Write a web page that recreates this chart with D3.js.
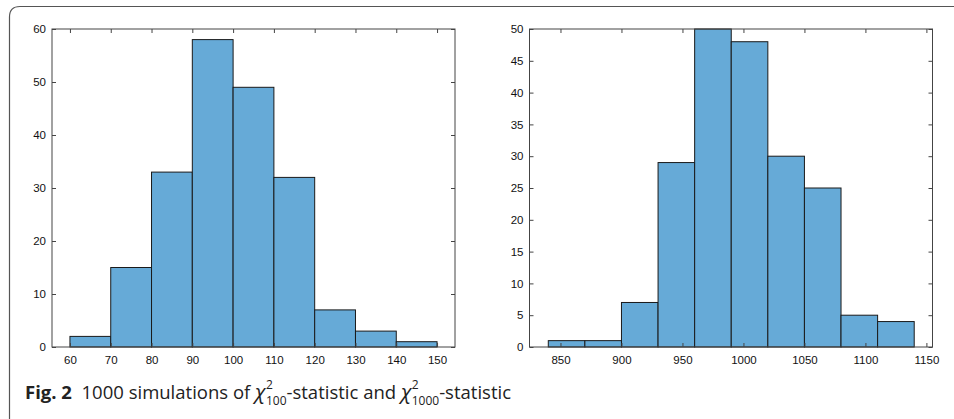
<!DOCTYPE html>
<html>
<head>
<meta charset="utf-8">
<script src="https://cdn.jsdelivr.net/npm/d3@7"></script>
<style>
  body { margin: 0; background: #fff; }
  svg { display: block; }
</style>
</head>
<body>
<svg id="fig" width="954" height="419"></svg>
<script>
// histogram of chi^2_100 statistic
var leftEdges = [60, 70, 80, 90, 100, 110, 120, 130, 140, 150];
var leftCounts = [2, 15, 33, 58, 49, 32, 7, 3, 1];
var leftXTicks = [60, 70, 80, 90, 100, 110, 120, 130, 140, 150];
var leftYTicks = [0, 10, 20, 30, 40, 50, 60];

// histogram of chi^2_1000 statistic
var rightEdges = [840, 870, 900, 930, 960, 990, 1020, 1050, 1080, 1110, 1140];
var rightCounts = [1, 1, 7, 29, 50, 48, 30, 25, 5, 4];
var rightXTicks = [850, 900, 950, 1000, 1050, 1100, 1150];
var rightYTicks = [0, 5, 10, 15, 20, 25, 30, 35, 40, 45, 50];

var svg = d3.select("#fig");

// frame of the figure box (top + left with rounded corner)
svg.append("path")
    .attr("d", "M9.5,419 L9.5,17 Q9.5,6.5 20,6.5 L954,6.5")
    .attr("fill", "none")
    .attr("stroke", "#555")
    .attr("stroke-width", 1.2);

function drawHist(opt) {
    var x = d3.scaleLinear().domain(opt.xDomain).range([opt.left, opt.right]);
    var y = d3.scaleLinear().domain([0, opt.yMax]).range([opt.bottom, opt.top]);
    var g = svg.append("g");
    var fmt = d3.format("d");

    var bins = opt.counts.map(function(c, i) {
        return {x0: opt.edges[i], x1: opt.edges[i + 1], n: c};
    });

    g.selectAll("rect.bar")
        .data(bins)
        .enter().append("rect")
        .attr("class", "bar")
        .attr("x", function(d) { return x(d.x0); })
        .attr("y", function(d) { return y(d.n); })
        .attr("width", function(d) { return x(d.x1) - x(d.x0); })
        .attr("height", function(d) { return y(0) - y(d.n); })
        .attr("fill", "#66aad7")
        .attr("stroke", "#1a1a1a")
        .attr("stroke-width", 1);

    var font = "'Liberation Sans', Arial, sans-serif";

    var axB = g.append("g")
        .attr("transform", "translate(0," + opt.bottom + ")")
        .call(d3.axisBottom(x).tickValues(opt.xTicks).tickFormat(fmt)
            .tickSizeInner(-4).tickSizeOuter(0).tickPadding(9));
    var axT = g.append("g")
        .attr("transform", "translate(0," + opt.top + ")")
        .call(d3.axisTop(x).tickValues(opt.xTicks).tickSizeInner(-4).tickSizeOuter(0).tickFormat(""));
    var axL = g.append("g")
        .attr("transform", "translate(" + opt.left + ",0)")
        .call(d3.axisLeft(y).tickValues(opt.yTicks).tickFormat(fmt)
            .tickSizeInner(-4).tickSizeOuter(0).tickPadding(6));
    var axR = g.append("g")
        .attr("transform", "translate(" + opt.right + ",0)")
        .call(d3.axisRight(y).tickValues(opt.yTicks).tickSizeInner(-4).tickSizeOuter(0).tickFormat(""));

    [axB, axT, axL, axR].forEach(function(a) {
        a.select(".domain").remove();
        a.selectAll(".tick line").attr("stroke", "#444");
        a.selectAll("text")
            .attr("font-family", font)
            .attr("font-size", "11.5px")
            .attr("fill", "#111");
    });

    // axes box
    g.append("rect")
        .attr("x", opt.left)
        .attr("y", opt.top)
        .attr("width", opt.right - opt.left)
        .attr("height", opt.bottom - opt.top)
        .attr("fill", "none")
        .attr("stroke", "#444")
        .attr("stroke-width", 1);
}

drawHist({
    edges: leftEdges, counts: leftCounts, xTicks: leftXTicks, yTicks: leftYTicks,
    xDomain: [55.6, 154.4], yMax: 60,
    left: 52, right: 455, top: 29, bottom: 347
});

drawHist({
    edges: rightEdges, counts: rightCounts, xTicks: rightXTicks, yTicks: rightYTicks,
    xDomain: [824.6, 1155], yMax: 50,
    left: 529.5, right: 932.5, top: 29, bottom: 347
});

// caption
var capFont = "'Open Sans', 'Noto Sans', sans-serif";
var capSize = 18.5;
var scriptSize = 12;
var cap = svg.append("g").attr("font-family", capFont).attr("fill", "#222");
var cx = 25, base = 399;

function piece(txt, o) {
    o = o || {};
    var t = cap.append("text")
        .attr("x", o.x != null ? o.x : cx)
        .attr("y", base + (o.dy || 0))
        .attr("font-size", (o.size || capSize) + "px")
        .attr("font-weight", o.bold ? "bold" : "normal")
        .attr("font-style", o.italic ? "italic" : "normal")
        .attr("xml:space", "preserve")
        .text(txt);
    return t.node().getComputedTextLength();
}

function chiSq(sub) {
    cx += piece("χ", {italic: true, size: capSize + 2}) + 0.5;
    var a = piece("2", {size: scriptSize, dy: -10.5});
    var b = piece(sub, {size: scriptSize, dy: 6});
    cx += Math.max(a, b);
}

cx += piece("Fig. 2", {bold: true});
cx += piece("  1000 simulations of ");
chiSq("100");
cx += piece("-statistic and ");
chiSq("1000");
cx += piece("-statistic");
</script>
</body>
</html>
